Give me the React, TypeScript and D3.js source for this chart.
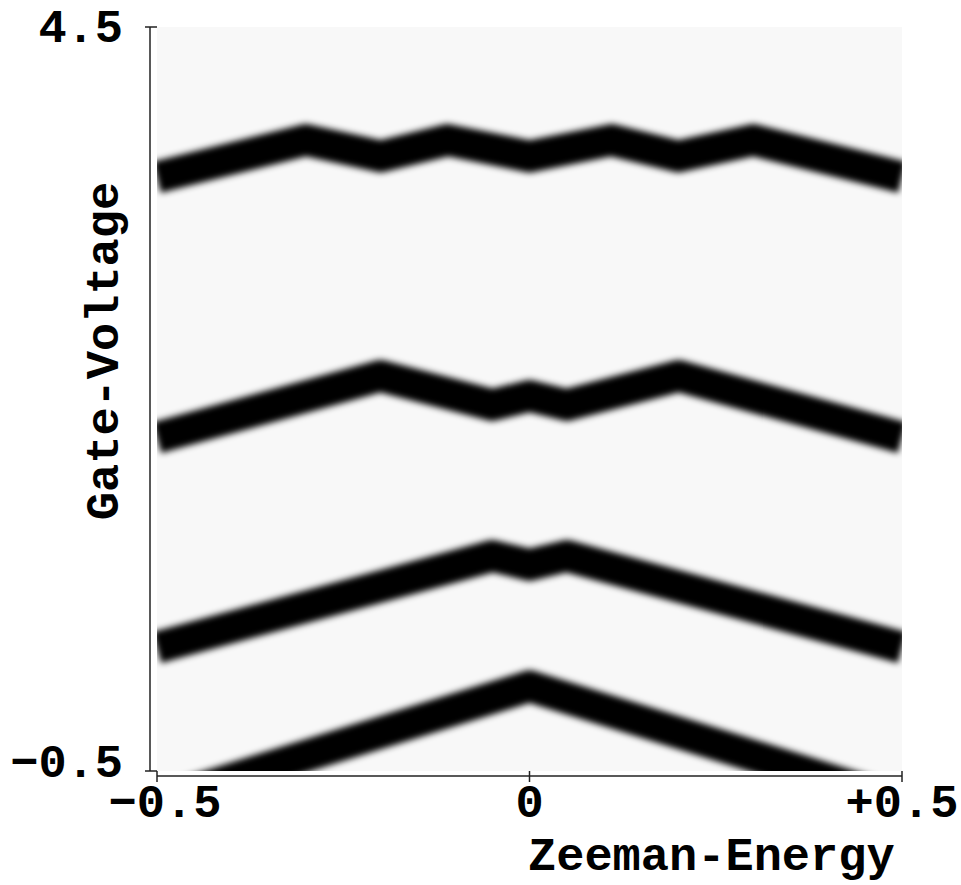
import React from "react";
import * as d3 from "d3";

// Zeeman-Energy (x) / Gate-Voltage (y) ridge lines
const band1X = [-0.5, -0.3, -0.2, -0.11, 0, 0.11, 0.2, 0.3, 0.5];
const band1Y = [3.49, 3.74, 3.63, 3.74, 3.63, 3.74, 3.63, 3.74, 3.49];
const band2X = [-0.5, -0.2, -0.05, 0, 0.05, 0.2, 0.5];
const band2Y = [1.74, 2.155, 1.96, 2.02, 1.96, 2.155, 1.74];
const band3X = [-0.5, -0.05, 0, 0.05, 0.5];
const band3Y = [0.33, 0.945, 0.885, 0.945, 0.33];
const band4X = [-0.5, 0, 0.5];
const band4Y = [-0.71, 0.07, -0.71];

const xTicks = [-0.5, 0, 0.5];
const xTickLabels = ["−0.5", "0", "+0.5"];
const yTicks = [-0.5, 4.5];
const yTickLabels = ["−0.5", "4.5"];

const xLabel = "Zeeman-Energy";
const yLabel = "Gate-Voltage";

const W = 961;
const H = 885;
const L = 157, R = 902, T = 27, B = 771;

export default function App() {
  const x = d3.scaleLinear().domain([-0.5, 0.5]).range([L, R]);
  const y = d3.scaleLinear().domain([-0.5, 4.5]).range([B, T]);
  const line = d3
    .line<[number, number]>()
    .x((d) => x(d[0]))
    .y((d) => y(d[1]));
  const bands = [
    [band1X, band1Y],
    [band2X, band2Y],
    [band3X, band3Y],
    [band4X, band4Y],
  ].map(([xs, ys]) => xs.map((v, i) => [v, ys[i]] as [number, number]));

  const font = {
    fontFamily: "'Liberation Mono', 'Courier New', 'DejaVu Sans Mono', monospace",
    fontWeight: 700 as const,
    fontSize: 47,
    fill: "#000",
  };

  return (
    <svg
      width={W}
      height={H}
      style={{ position: "absolute", left: 0, top: 0, background: "#fff" }}
    >
      <defs>
        <clipPath id="plotClip">
          <rect x={L} y={T} width={R - L} height={B - T} />
        </clipPath>
        <filter id="soft" x="-10%" y="-10%" width="120%" height="120%">
          <feGaussianBlur stdDeviation={3} />
        </filter>
      </defs>
      <rect x={L} y={T} width={R - L} height={B - T} fill="#f8f8f8" />
      <g clipPath="url(#plotClip)">
        <g filter="url(#soft)">
          {bands.map((b, i) => (
            <path
              key={i}
              d={line(b) || ""}
              fill="none"
              stroke="#000"
              strokeWidth={32}
              strokeLinejoin="round"
              strokeLinecap="butt"
            />
          ))}
        </g>
      </g>
      {/* axes */}
      <g stroke="#222" strokeWidth={1.5} fill="none">
        <line x1={150} x2={150} y1={T} y2={B} />
        <line x1={L} x2={R} y1={776} y2={776} />
        {yTicks.map((t) => (
          <line key={"yt" + t} x1={145} x2={157} y1={y(t)} y2={y(t)} />
        ))}
        {xTicks.map((t) => (
          <line key={"xt" + t} x1={x(t)} x2={x(t)} y1={771} y2={782} />
        ))}
      </g>
      {yTicks.map((t, i) => (
        <text
          key={"yl" + t}
          x={123}
          y={t === 4.5 ? 42 : 777}
          textAnchor="end"
          {...font}
        >
          {yTickLabels[i]}
        </text>
      ))}
      {xTicks.map((t, i) => (
        <text
          key={"xl" + t}
          x={x(t) + (i === 0 ? 8 : 0)}
          y={817}
          textAnchor="middle"
          {...font}
        >
          {xTickLabels[i]}
        </text>
      ))}
      <text x={528} y={870} textAnchor="start" {...font}>
        {xLabel}
      </text>
      <text
        transform={`translate(118, 351) rotate(-90)`}
        textAnchor="middle"
        {...font}
      >
        {yLabel}
      </text>
    </svg>
  );
}
